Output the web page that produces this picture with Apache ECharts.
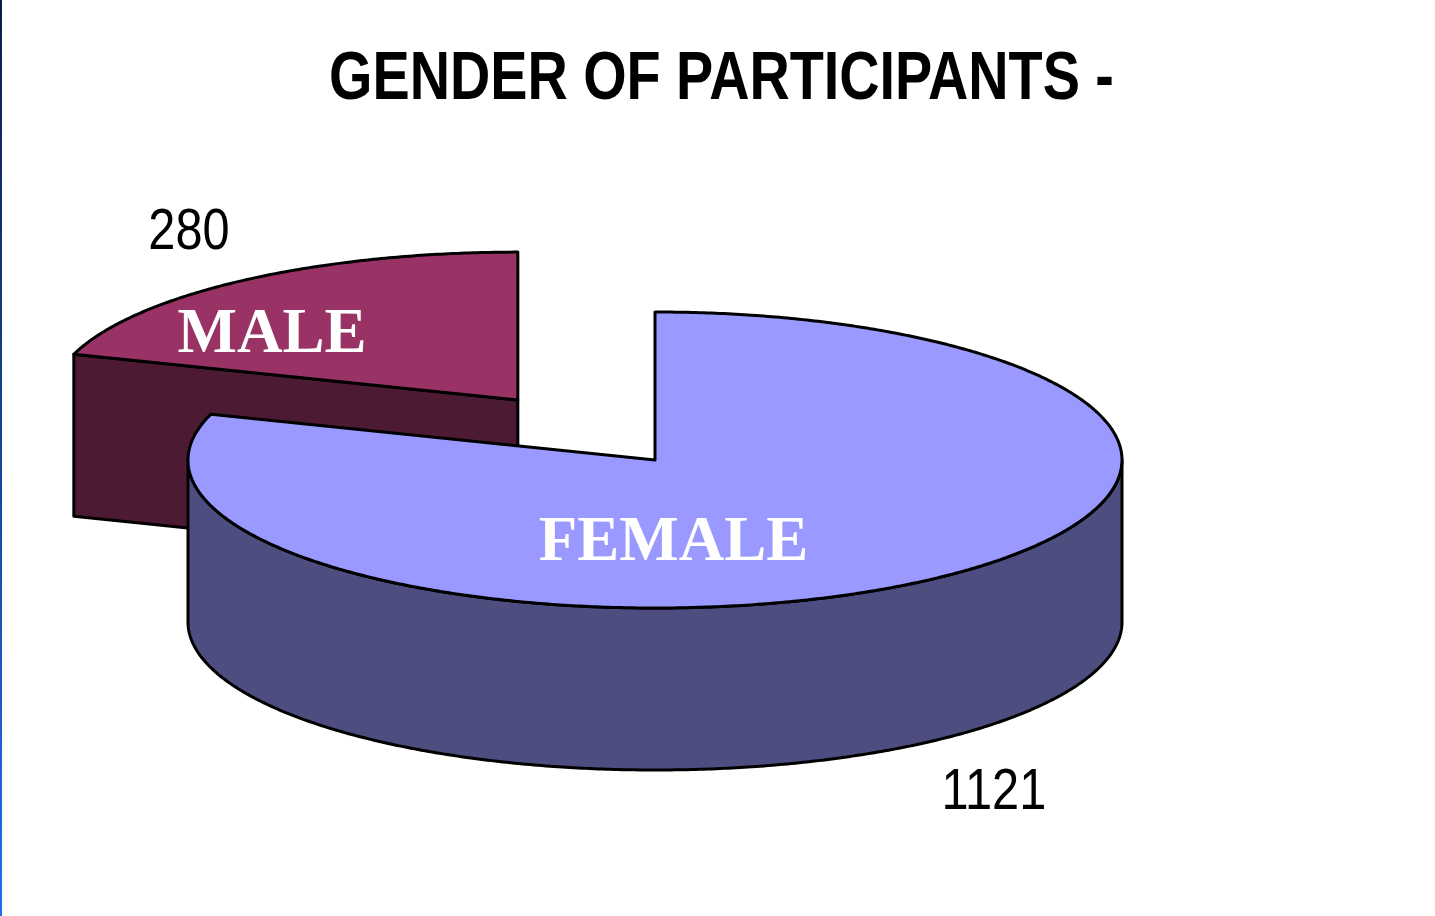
<!DOCTYPE html>
<html>
<head>
<meta charset="utf-8">
<script src="https://cdn.jsdelivr.net/npm/echarts@6/dist/echarts.min.js"></script>
<style>
  html, body { margin: 0; padding: 0; background: #ffffff; }
  #chart { width: 1435px; height: 916px; }
</style>
</head>
<body>
<div id="chart"></div>
<script>
// Participants by gender
const categories = ['FEMALE', 'MALE'];
const counts = [1121, 280];
const explodeFraction = [0, 0.5];
const topColors = ['#9999FF', '#993366'];
const sideColors = ['#4D4D80', '#4D1A33'];

// 3D pie projection: ellipse radii and extrusion depth in pixels
const pie = { cx: 655, cy: 460, rx: 467, ry: 148, depth: 162 };
// category label placement, polar [degrees, radius fraction] on each slice top
const innerLabelPolar = [[-86, 0.54], [139, 0.70]];
const valueLabelRadius = 1.35;
const valueLabelTurn = -4;
const valueLabelShift = 5;

const total = counts.reduce((a, b) => a + b, 0);
const DEG = Math.PI / 180;

function sliceGeom(i) {
  let before = 0;
  for (let k = 0; k < i; k++) before += counts[k];
  const aStart = Math.PI / 2 - 2 * Math.PI * before / total;
  const aEnd = aStart - 2 * Math.PI * counts[i] / total;
  const mid = (aStart + aEnd) / 2;
  return {
    aStart, aEnd, mid,
    cx: pie.cx + explodeFraction[i] * pie.rx * Math.cos(mid),
    cy: pie.cy - explodeFraction[i] * pie.ry * Math.sin(mid)
  };
}
function pt(g, a, r, z) {
  return [g.cx + r * pie.rx * Math.cos(a), g.cy - r * pie.ry * Math.sin(a) + z];
}
function arc(g, a0, a1, z) {
  const n = Math.max(2, Math.ceil(Math.abs(a1 - a0) / (Math.PI / 360)));
  const out = [];
  for (let k = 0; k <= n; k++) out.push(pt(g, a0 + (a1 - a0) * k / n, 1, z));
  return out;
}

// back slices are painted first
const drawRank = (() => {
  const order = categories.map((_, i) => i).sort((a, b) => sliceGeom(a).cy - sliceGeom(b).cy);
  const rank = [];
  order.forEach((idx, r) => { rank[idx] = r; });
  return rank;
})();

function renderSlice(params, api) {
  const i = params.dataIndex;
  const value = api.value(0);
  const g = sliceGeom(i);
  const d = pie.depth;
  const base = drawRank[i] * 10;
  const edge = { stroke: '#000000', lineWidth: 3, lineJoin: 'round' };
  const children = [];
  const face = (points, fill, z2) =>
    children.push({ type: 'polygon', shape: { points }, style: Object.assign({ fill }, edge), z2 });

  const center = pt(g, 0, 0, 0);
  const centerLow = pt(g, 0, 0, d);
  // radial cut faces turned toward the viewer
  if (Math.cos(g.aStart) < -1e-9) {
    face([center, pt(g, g.aStart, 1, 0), pt(g, g.aStart, 1, d), centerLow], sideColors[i], base);
  }
  if (Math.cos(g.aEnd) > 1e-9) {
    face([center, pt(g, g.aEnd, 1, 0), pt(g, g.aEnd, 1, d), centerLow], sideColors[i], base);
  }
  // curved outer wall on the front half of the ellipse
  const k0 = Math.floor(g.aEnd / (2 * Math.PI)) - 1;
  const k1 = Math.ceil(g.aStart / (2 * Math.PI)) + 1;
  for (let k = k0; k <= k1; k++) {
    const lo = Math.max(g.aEnd, -Math.PI + 2 * Math.PI * k);
    const hi = Math.min(g.aStart, 2 * Math.PI * k);
    if (hi - lo > 1e-6) {
      face(arc(g, lo, hi, 0).concat(arc(g, hi, lo, d)), sideColors[i], base + 1);
    }
  }
  // top face
  face([center].concat(arc(g, g.aStart, g.aEnd, 0)), topColors[i], base + 2);

  // value label outside the slice
  const la = g.mid + valueLabelTurn * DEG;
  const lp = pt(g, la, valueLabelRadius, Math.sin(g.mid) < 0 ? d : 0);
  children.push({
    type: 'text', x: lp[0] + valueLabelShift, y: lp[1] + 2, scaleX: 0.84, z2: 1000,
    style: {
      text: String(value), fontFamily: 'Liberation Sans', fontSize: 58,
      fill: '#000000', align: 'center', verticalAlign: 'middle'
    }
  });
  // category label on the slice top
  const ip = pt(g, innerLabelPolar[i][0] * DEG, innerLabelPolar[i][1], 0);
  children.push({
    type: 'text', x: ip[0] + 1, y: ip[1] + 4, z2: 1000,
    style: {
      text: categories[i], fontFamily: 'Liberation Serif', fontWeight: 'bold', fontSize: 63,
      fill: '#ffffff', align: 'center', verticalAlign: 'middle'
    }
  });
  return { type: 'group', children };
}

const chart = echarts.init(document.getElementById('chart'), null, { renderer: 'canvas' });
chart.setOption({
  backgroundColor: '#ffffff',
  animation: false,
  graphic: [
    {
      type: 'rect', left: 0, top: 0, z: 10,
      shape: { width: 2, height: 916 },
      style: {
        fill: new echarts.graphic.LinearGradient(0, 0, 0, 1, [
          { offset: 0, color: '#0b1c4a' },
          { offset: 1, color: '#1f70e8' }
        ])
      }
    },
    {
      type: 'text', x: 721.5, y: 80, scaleX: 0.82, z: 10,
      style: {
        text: 'GENDER OF PARTICIPANTS -', fontFamily: 'Liberation Sans', fontWeight: 'bold',
        fontSize: 68, fill: '#000000', align: 'center', verticalAlign: 'middle'
      }
    }
  ],
  series: [{
    type: 'custom',
    coordinateSystem: 'none',
    silent: true,
    renderItem: renderSlice,
    data: counts.map((v, i) => [v, i])
  }]
});
</script>
</body>
</html>
